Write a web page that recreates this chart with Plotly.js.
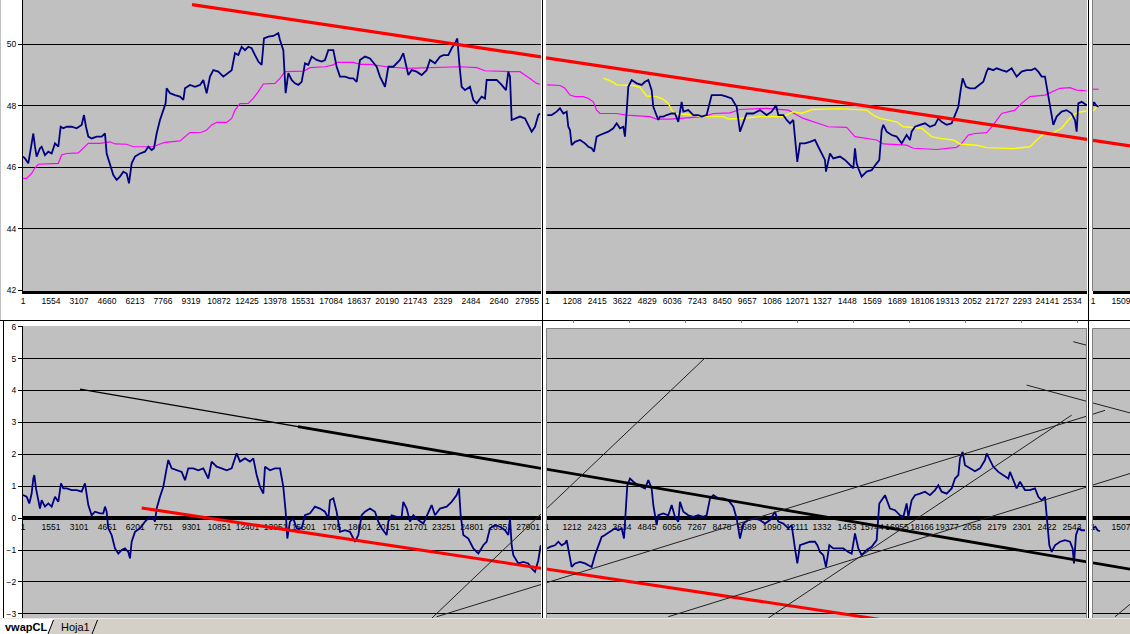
<!DOCTYPE html>
<html><head><meta charset="utf-8">
<script src="https://cdn.plot.ly/plotly-3.0.1.min.js"></script>
<style>html,body{margin:0;padding:0;background:#fff;overflow:hidden}#chart{width:1130px;height:634px}</style>
</head><body><div id="chart"></div>
<script>
// ---------------- DATA ----------------
// Top-left chart (price, vwap)
const tlX = [1,111,296,388,573,666,758,943,1035,1220,1405,1590,1775,1960,2089,2237,2422,2699,2976,3254,3383,3494,3623,3808,4086,4363,4548,4640,4825,5010,5195,5380,5565,5750,5879,6027,6212,6489,6766,6951,7136,7265,7413,7598,7783,7912,7968,8153,8430,8707,8892,8985,9262,9539,9816,10001,10186,10371,10556,10833,11111,11388,11573,11758,11943,12127,12312,12497,12682,12867,13052,13237,13366,13606,13883,14161,14253,14438,14568,14716,14900,15085,15270,15455,15640,15825,16010,16287,16564,16749,16934,17211,17396,17581,17858,18135,18320,18505,18690,18967,19245,19614,19799,20077,20262,20539,20908,21093,21371,21555,21833,22110,22387,22572,22850,23127,23312,23589,23774,23959,24088,24199,24328,24513,24791,24976,25161,25438,25623,25715,25993,26270,26547,26787,26917,27009,27101,27286,27564,27841,28026,28211,28396,28581,28674];
const tlPrice = [46.35,46.29,46.13,46.45,47.10,46.67,46.35,46.62,46.67,46.40,46.51,46.45,46.78,46.67,47.32,47.27,47.32,47.32,47.27,47.38,47.70,47.32,47.00,46.94,47.00,47.00,47.10,46.45,46.13,45.75,45.59,45.70,45.86,45.80,45.48,46.13,46.35,46.45,46.51,46.67,46.56,46.62,47.10,47.54,47.86,48.08,48.57,48.41,48.35,48.30,48.19,48.57,48.68,48.62,48.68,48.84,48.41,48.95,49.16,49.11,48.95,49.06,49.16,49.71,49.65,49.92,49.81,49.92,49.87,49.65,49.44,49.33,50.19,50.25,50.27,50.36,50.14,49.81,48.41,49.06,48.84,48.73,48.68,48.78,49.38,49.33,49.60,49.49,49.44,49.49,49.81,49.81,49.27,48.95,48.95,48.89,48.89,48.78,49.49,49.60,49.54,49.27,48.95,48.62,49.27,49.27,49.49,49.71,49.00,49.16,49.11,49.00,49.16,49.49,49.38,49.60,49.65,49.65,49.87,50.03,50.19,49.38,48.62,48.51,48.62,48.19,48.08,48.30,48.24,48.84,48.84,48.84,48.68,48.51,49.11,48.95,47.54,47.59,47.65,47.59,47.38,47.16,47.32,47.70,47.75];
const tlVwapX = [1,203,481,647,850,1497,1960,2145,2422,3069,3346,3623,4270,4825,5102,5750,6119,7228,7598,7875,8707,8985,9262,9909,10186,10463,10741,11295,11573,11758,12035,12497,12774,13052,13329,13976,14253,14531,15571,15929,16763,17211,17396,18320,18690,19245,20169,21278,22757,24236,25161,25623,27009,27564,28118,28488,28674];
const tlVwap = [45.64,45.64,45.80,45.97,46.10,46.11,46.13,46.40,46.45,46.47,46.62,46.78,46.78,46.83,46.76,46.75,46.67,46.67,46.76,46.81,46.86,47.00,47.13,47.14,47.21,47.38,47.46,47.46,47.59,47.86,48.07,48.08,48.24,48.46,48.71,48.73,48.89,49.11,49.13,49.24,49.27,49.33,49.41,49.41,49.35,49.35,49.27,49.22,49.24,49.27,49.24,49.14,49.11,49.11,48.89,48.73,48.70];
const tlTickVals = [1,1554,3107,4660,6213,7766,9319,10872,12425,13978,15531,17084,18637,20190,21743,23296,24849,26402,27955];
const tlTickText = ["1","1554","3107","4660","6213","7766","9319","10872","12425","13978","15531","17084","18637","20190","21743","2329","2484","2640","27955"];

// Top-middle chart
const tmX = [1,211,452,613,774,935,1015,1096,1177,1337,1579,1820,1981,2142,2255,2384,2544,2705,2947,3188,3349,3510,3671,3751,3832,3912,4073,4315,4556,4717,4878,5039,5119,5280,5361,5441,5602,5763,6005,6165,6326,6487,6568,6809,7050,7292,7453,7694,7855,7936,8177,8419,8660,8901,9143,9304,9625,9947,10269,10591,10833,11042,11154,11396,11557,11717,11878,11959,12071,12200,12442,12683,12925,13085,13246,13407,13456,13568,13649,13810,14132,14373,14614,14775,14856,14936,15017,15178,15419,15661,15902,16030,16143,16224,16385,16626,16868,17109,17350,17511,17592,17753,17994,18235,18477,18718,18879,19040,19282,19523,19684,19845,19958,20054,20215,20408,20649,20891,21052,21213,21293,21534,21696,21937,22178,22420,22661,22903,23144,23385,23546,23707,23868,24029,24190,24351,24431,24592,24834,25075,25316,25477,25558,25638,25800,26041];
const tmPrice = [47.70,47.70,47.81,47.92,47.75,47.81,47.32,47.21,46.72,46.83,46.89,46.78,46.67,46.62,46.51,47.00,47.05,47.10,47.16,47.27,47.43,47.27,47.32,47.00,47.86,48.62,48.84,48.73,48.68,48.78,48.84,48.51,47.97,47.65,47.54,47.65,47.65,47.70,47.75,47.75,47.48,48.13,47.81,47.86,47.70,47.70,47.65,47.70,48.08,48.35,48.35,48.35,48.30,48.24,47.97,47.16,47.75,47.75,47.86,47.70,47.81,48.02,47.70,47.70,47.54,47.43,47.54,46.89,46.18,46.78,46.78,46.83,46.89,46.67,46.45,46.24,45.86,46.24,46.45,46.29,46.35,46.24,46.07,45.97,46.62,46.13,45.97,45.70,45.86,45.91,46.13,46.24,47.21,47.38,47.16,47.05,47.00,46.78,47.05,46.89,47.16,47.32,47.38,47.43,47.32,47.38,47.59,47.48,47.38,47.43,47.70,47.97,48.51,48.89,48.62,48.57,48.57,48.68,48.78,49.11,49.22,49.16,49.22,49.16,49.11,49.22,48.95,49.11,49.16,49.16,49.22,49.11,48.95,48.95,48.30,47.75,47.38,47.65,47.81,47.86,47.75,47.54,47.16,48.08,48.13,48.02];
const tmVwapX = [1,613,855,1096,1337,1740,1981,2222,2384,2544,3349,3832,4958,5280,5924,6568,7533,8016,8821,9304,10591,11637,12040,12361,13568,14454,14856,15902,16224,17350,17672,18799,19764,20006,20327,20649,21213,21534,21937,22581,22903,23305,24029,24351,24753,25236,25558,26041];
const tmVwap = [48.68,48.66,48.57,48.35,48.30,48.30,48.24,48.13,47.86,47.75,47.75,47.70,47.65,47.57,47.57,47.61,47.65,47.75,47.77,47.88,47.92,47.86,47.70,47.59,47.32,47.30,47.00,46.89,46.76,46.72,46.62,46.58,46.65,46.78,47.05,47.10,47.13,47.38,47.75,47.86,48.08,48.30,48.35,48.46,48.57,48.59,48.51,48.49];
const tmVwap2X = [2705,2947,3188,3349,4154,4476,4636,4797,5280,5602,5843,6005,6165,6890,7131,7372,8499,8740,9304,10269,11396,11878,12281,12764,14132,15419,15741,16063,16868,17189,18075,18557,18960,19603,19925,20730,21213,22500,23305,23627,23948,24431,24834,25155,25397,25638,26041];
const tmVwap2 = [48.89,48.84,48.76,48.68,48.66,48.60,48.46,48.32,48.30,48.21,48.08,47.86,47.75,47.73,47.70,47.65,47.65,47.57,47.59,47.65,47.65,47.81,47.75,47.88,47.91,47.86,47.70,47.59,47.48,47.32,47.27,47.00,46.94,46.89,46.76,46.72,46.64,46.61,46.67,46.89,47.08,47.13,47.27,47.54,47.70,47.79,47.83];
const tmTickVals = [1,1208,2415,3622,4829,6036,7243,8450,9657,10864,12071,13278,14485,15692,16899,18106,19313,20520,21727,22934,24141,25348];
const tmTickText = ["1","1208","2415","3622","4829","6036","7243","8450","9657","1086","12071","1327","1448","1569","1689","18106","19313","2052","21727","2293","24141","2534"];

// Top-right chart (only its start is visible)
const trX = [1,60,130,200,300];
const trPrice = [48.02,48.12,48.05,48.00,47.97];
const trVwapX = [1,300];
const trVwap = [48.54,48.54];
const trVwap2X = [1,150,300];
const trVwap2 = [47.83,47.92,48.02];
const trTickVals = [1,1509];
const trTickText = ["1","1509"];

// Bottom-left chart (deviation)
const blX = [1,203,350,479,571,626,718,847,939,1031,1215,1399,1584,1768,1952,2099,2228,2412,2689,2965,3241,3425,3517,3609,3793,3977,4253,4437,4530,4622,4714,4898,5082,5266,5450,5634,5818,5911,6003,6187,6463,6739,7015,7199,7292,7384,7568,7752,7936,8028,8212,8489,8765,8949,9133,9409,9685,9962,10238,10422,10698,10974,11251,11527,11711,11803,11987,12263,12539,12724,12908,13092,13276,13368,13644,13920,14197,14381,14510,14602,14749,14933,15118,15394,15578,15854,16130,16406,16683,16867,16959,17143,17327,17511,17787,18063,18340,18524,18708,18892,19168,19444,19629,19813,20089,20181,20365,20641,20917,21009,21194,21378,21562,21838,22114,22391,22575,22759,23035,23403,23679,23956,24085,24177,24324,24600,24876,25153,25429,25613,25797,26073,26349,26625,26810,26902,26994,27086,27362,27638,27914,28098,28283,28467,28600];
const blDev = [0.72,0.67,0.46,0.77,1.24,1.35,0.93,0.51,0.30,0.56,0.36,0.46,0.36,0.67,0.51,1.09,0.93,0.93,0.88,0.88,0.83,1.09,0.67,0.41,0.09,0.20,0.15,0.15,0.36,0.20,-0.32,-0.53,-0.95,-1.11,-1.00,-0.95,-1.06,-1.26,-0.74,-0.43,-0.32,-0.11,0.04,-0.01,-0.11,0.30,0.67,0.98,1.56,1.82,1.56,1.50,1.45,1.19,1.56,1.56,1.50,1.56,1.24,1.77,1.61,1.56,1.50,1.56,1.92,2.03,1.77,1.87,1.77,1.87,1.35,0.98,0.77,1.61,1.50,1.56,1.56,0.98,0.20,-0.64,-0.11,-0.01,-0.32,-0.32,0.09,0.15,0.36,0.30,0.20,-0.01,0.56,0.62,0.20,-0.43,-0.38,-0.43,-0.74,-0.53,0.09,0.20,0.30,0.20,-0.11,-0.32,-0.53,-0.11,0.09,0.04,0.04,0.51,0.30,-0.11,0.09,-0.06,-0.17,0.20,0.41,0.09,0.30,0.36,0.51,0.72,0.93,0.09,-0.53,-0.64,-0.95,-1.11,-0.85,-0.74,-0.32,-0.22,-0.27,-0.38,-0.53,-0.01,-0.85,-1.16,-1.42,-1.37,-1.42,-1.58,-1.68,-1.32,-0.85];
const blTickVals = [1,1551,3101,4651,6201,7751,9301,10851,12401,13951,15501,17051,18601,20151,21701,23251,24801,26351,27901];
const blTickText = ["1","1551","3101","4651","6201","7751","9301","10851","12401","13951","15501","1705","18601","20151","21701","23251","24801","26351","27901"];

// Bottom-middle chart
const bmX = [1,146,389,550,712,873,954,1034,1115,1196,1357,1600,1842,2003,2165,2326,2487,2649,2810,3053,3295,3456,3618,3731,3828,3892,4022,4183,4425,4587,4748,4910,5071,5152,5313,5394,5636,5878,6040,6201,6362,6443,6605,6847,7089,7331,7574,7735,7897,8058,8300,8542,8785,9027,9188,9350,9512,9754,10076,10319,10561,10803,11045,11207,11449,11691,11853,12014,12127,12256,12498,12741,12983,13096,13225,13386,13516,13677,13871,14113,14355,14597,14759,14920,15082,15243,15485,15728,15970,16099,16260,16374,16616,16858,17100,17262,17423,17504,17665,17827,18069,18311,18553,18796,18957,19118,19361,19603,19765,19926,20007,20136,20249,20491,20733,20976,21218,21298,21460,21622,21864,22106,22348,22429,22590,22752,22913,23155,23398,23640,23801,23963,24124,24205,24334,24447,24608,24850,25093,25335,25464,25529,25626,25739,25900,26062];
const bmDev = [-0.95,-0.90,-0.85,-0.74,-0.85,-0.79,-0.69,-1.00,-1.26,-1.53,-1.42,-1.37,-1.42,-1.47,-1.53,-1.16,-0.85,-0.59,-0.53,-0.43,-0.32,-0.38,-0.32,-0.64,0.51,1.03,1.24,1.14,1.03,0.98,0.93,1.19,0.93,0.41,-0.22,0.09,0.15,0.09,0.41,0.04,-0.11,0.51,0.20,0.09,0.04,0.09,0.04,0.09,0.62,0.72,0.62,0.62,0.56,0.36,-0.01,-0.64,-0.17,-0.06,-0.01,-0.06,-0.17,-0.06,0.20,-0.11,-0.17,-0.32,-0.22,-0.95,-1.42,-0.85,-0.79,-0.74,-0.74,-0.85,-1.06,-1.16,-1.53,-0.85,-0.95,-0.95,-0.95,-1.06,-1.11,-0.48,-0.95,-1.16,-1.00,-0.90,-0.69,0.46,0.62,0.72,0.30,0.25,0.09,0.04,0.46,0.04,0.56,0.72,0.77,0.83,0.72,0.88,1.03,0.83,0.77,0.93,1.24,1.35,1.87,2.08,1.66,1.56,1.47,1.56,1.82,2.03,1.82,1.61,1.45,1.35,1.24,1.45,1.19,0.93,1.14,0.88,0.88,0.93,0.67,0.56,0.67,-0.01,-0.85,-1.06,-0.85,-0.74,-0.69,-0.74,-0.95,-1.42,-0.53,-0.32,-0.38,-0.38];
const bmTickVals = [1,1212,2423,3634,4845,6056,7267,8478,9689,10900,12111,13322,14533,15744,16955,18166,19377,20588,21799,23010,24221,25432];
const bmTickText = ["1","1212","2423","3634","4845","6056","7267","8478","9689","1090","12111","1332","1453","15744","16955","18166","19377","2058","2179","2301","2422","2543"];

// Bottom-right chart (only its start is visible)
const brX = [1,130,250,378];
const brDev = [-0.32,-0.27,-0.38,-0.41];
const brTickVals = [1,1507];
const brTickText = ["1","1507"];

// Hand-drawn trend lines (endpoints in each chart's own units)
const redTopTL = {x:[9374,28729], y:[51.29,49.59]};
const redTopTM = {x:[-62,26058], y:[49.56,46.91]};
const redTopTR = {x:[1,1995], y:[46.88,46.70]};
const blackThinBL = {x:[3149,15191], y:[4.04,2.87]};
const blackThickBL = {x:[15191,28615], y:[2.87,1.56]};
const blackThickBM = {x:[-47,26159], y:[1.54,-1.37]};
const blackThickBR = {x:[1,1995], y:[-1.40,-1.60]};
const redBotBL = {x:[6557,28615], y:[0.32,-1.57]};
const redBotBM = {x:[-47,17100], y:[-1.59,-3.27]};
const steepBL = {x:[22483,28615], y:[-3.19,0.13]};
const steepBM = {x:[-47,7655], y:[0.28,5.02]};
const riseBL = {x:[22853,28615], y:[-3.09,-2.08]};
const riseBM = {x:[-47,26159], y:[-2.03,3.20]};
const riseBR = {x:[1,648], y:[3.26,3.38]};
const rise2BM = {x:[5877,26159], y:[-3.09,0.98]};
const rise2BR = {x:[1,1995], y:[1.04,1.40]};
const rise3BM = {x:[10721,25418], y:[-3.13,3.23]};
const fallBM = {x:[23238,26159], y:[4.17,3.66]};
const fallBR = {x:[1,1995], y:[3.61,3.30]};
const shortBM = {x:[25495,26144], y:[5.53,5.42]};
const cornerBR = {x:[1187,1995], y:[-3.09,-2.70]};

// ---------------- DRAWING ----------------
const W = 1130, H = 634;
const fx = p => p / W, fy = p => 1 - p / H;
const NAVY = '#000080', MAG = '#FF00FF', YEL = '#FFFF00', RED = '#FF0000', BLK = '#000000';

function tr(n, x, y, color, width) {
  return {type:'scatter', mode:'lines', x:x, y:y, xaxis:'x'+n, yaxis:'y'+n,
          line:{color:color, width:width}, hoverinfo:'skip', showlegend:false};
}
function seg(n, o, color, width) { return tr(n, o.x, o.y, color, width); }

const data = [
  tr('', tlVwapX, tlVwap, MAG, 1.2),
  tr('', tlX, tlPrice, NAVY, 1.8),
  tr('2', tmVwapX, tmVwap, MAG, 1.2),
  tr('2', tmVwap2X, tmVwap2, YEL, 1.4),
  tr('2', tmX, tmPrice, NAVY, 1.8),
  tr('3', trVwapX, trVwap, MAG, 1.2),
  tr('3', trVwap2X, trVwap2, YEL, 1.4),
  tr('3', trX, trPrice, NAVY, 1.8),
  tr('4', blX, blDev, NAVY, 1.8),
  tr('5', bmX, bmDev, NAVY, 1.8),
  tr('6', brX, brDev, NAVY, 1.8),
  seg('', redTopTL, RED, 3.2), seg('2', redTopTM, RED, 3.2), seg('3', redTopTR, RED, 3.2),
  seg('4', blackThinBL, BLK, 1.3), seg('4', blackThickBL, BLK, 2.8),
  seg('5', blackThickBM, BLK, 2.8), seg('6', blackThickBR, BLK, 2.8),
  seg('4', redBotBL, RED, 3), seg('5', redBotBM, RED, 3),
  seg('4', steepBL, '#222', 1), seg('5', steepBM, '#222', 1),
  seg('4', riseBL, '#222', 1), seg('5', riseBM, '#222', 1), seg('6', riseBR, '#222', 1),
  seg('5', rise2BM, '#222', 1), seg('6', rise2BR, '#222', 1),
  seg('5', rise3BM, '#222', 1),
  seg('5', fallBM, '#222', 1), seg('6', fallBR, '#222', 1),
  seg('5', shortBM, '#222', 1), seg('6', cornerBR, '#222', 1)
];

const tickFont = {family:'Liberation Sans, Arial, sans-serif', size:8.5, color:'#000'};
function xax(dom, range, vals, text, anchor, pos, lw) {
  const a = {domain:dom, range:range, tickmode:'array', tickvals:vals, ticktext:text,
    tickangle:0, showgrid:false, zeroline:false, showline:true, linecolor:'#000', linewidth:lw,
    ticks:'', tickfont:tickFont, layer:'below traces', fixedrange:true, anchor:anchor,
    ticklabeloverflow:'allow'};
  if (anchor === 'free') a.position = pos;
  return a;
}
function yax(dom, range, vals, anchor, labels) {
  return {domain:dom, range:range, tickmode:'array', tickvals:vals, anchor:anchor,
    showgrid:true, gridcolor:'#000', gridwidth:1, zeroline:false,
    showline:labels, linecolor:'#000', linewidth:1,
    ticks:labels ? 'outside' : '', ticklen:4, tickcolor:'#000',
    showticklabels:labels, tickfont:tickFont, fixedrange:true};
}

const xL = [fx(23), fx(541)], xM = [fx(546), fx(1087)], xR = [fx(1093), 1];
const yTop = [fy(291), 1];
const topRange = [41.98, 51.44];
const topVals = [42,44,46,48,50];
const botVals = [-3,-2,-1,0,1,2,3,4,5,6];
const zeroPos = fy(518);

function ln(x0,y0,x1,y1,color,w){return {type:'line',xref:'paper',yref:'paper',x0:fx(x0),y0:fy(y0),x1:fx(x1),y1:fy(y1),line:{color:color,width:w}};}
const shapes = [
  {type:'rect',xref:'paper',yref:'paper',x0:0,x1:1,y0:0,y1:fy(618.5),fillcolor:'#D4D0C8',line:{width:0}},
  {type:'path',xref:'paper',yref:'paper',path:`M ${fx(0)},${fy(619)} L ${fx(53)},${fy(619)} L ${fx(48)},${fy(634)} L ${fx(0)},${fy(634)} Z`,fillcolor:'#FFFFFF',line:{width:0}},
  ln(48,634,53.5,620,'#000',1), ln(92,634,97.5,620,'#000',1),
  ln(0.5,0,0.5,320,'#C0C0C0',1),
  ln(0,320.5,1130,320.5,'#000',1),
  ln(3.5,321,3.5,618,'#000',1),
  ln(542.5,0,542.5,618,'#000',1),
  ln(1088.5,0,1088.5,618,'#000',1),
  ln(546.5,328.5,1086.5,328.5,'#808080',1), ln(546.5,328.5,546.5,618,'#808080',1),
  ln(1086.5,328.5,1086.5,618,'#808080',1),
  ln(1092.5,328.5,1130,328.5,'#808080',1), ln(1092.5,328.5,1092.5,618,'#808080',1),
  ln(1092.5,0,1092.5,291,'#808080',1)
];
[573,629,685,741,797,853,909,965,1021,1077].forEach(p => shapes.push(ln(p+0.5,320.5,p+0.5,323,'#808080',1)));

const layout = {
  width:W, height:H, margin:{l:0,r:0,t:0,b:0}, paper_bgcolor:'#FFFFFF', plot_bgcolor:'#C0C0C0',
  showlegend:false, hovermode:false, font:{family:'Liberation Sans, Arial, sans-serif', color:'#000'},
  xaxis:  xax(xL, [1,28729], tlTickVals, tlTickText, 'y', null, 3),
  yaxis:  yax(yTop, topRange, topVals, 'x', true),
  xaxis2: xax(xM, [-62,26058], tmTickVals, tmTickText, 'y2', null, 3),
  yaxis2: yax(yTop, topRange, topVals, 'x2', false),
  xaxis3: xax(xR, [1,1995], trTickVals, trTickText, 'y3', null, 3),
  yaxis3: yax(yTop, topRange, topVals, 'x3', false),
  xaxis4: xax(xL, [1,28615], blTickVals, blTickText, 'free', zeroPos, 4),
  yaxis4: yax([fy(618), fy(326)], [-3.13, 6.02], botVals, 'x4', true),
  xaxis5: xax(xM, [-47,26159], bmTickVals, bmTickText, 'free', zeroPos, 4),
  yaxis5: yax([fy(618), fy(328)], [-3.13, 5.96], botVals, 'x5', false),
  xaxis6: xax(xR, [1,1995], brTickVals, brTickText, 'free', zeroPos, 4),
  yaxis6: yax([fy(618), fy(329)], [-3.13, 5.93], botVals, 'x6', false),
  shapes: shapes,
  annotations: [
    {xref:'paper',yref:'paper',x:fx(3),y:fy(627),xanchor:'left',yanchor:'middle',showarrow:false,
     text:'<b>vwapCL</b>',font:{family:'Liberation Sans, Arial, sans-serif',size:11,color:'#000'}},
    {xref:'paper',yref:'paper',x:fx(59),y:fy(627),xanchor:'left',yanchor:'middle',showarrow:false,
     text:'Hoja1',font:{family:'Liberation Sans, Arial, sans-serif',size:11,color:'#000'}}
  ]
};

Plotly.newPlot('chart', data, layout, {staticPlot:true, displayModeBar:false});
</script></body></html>
